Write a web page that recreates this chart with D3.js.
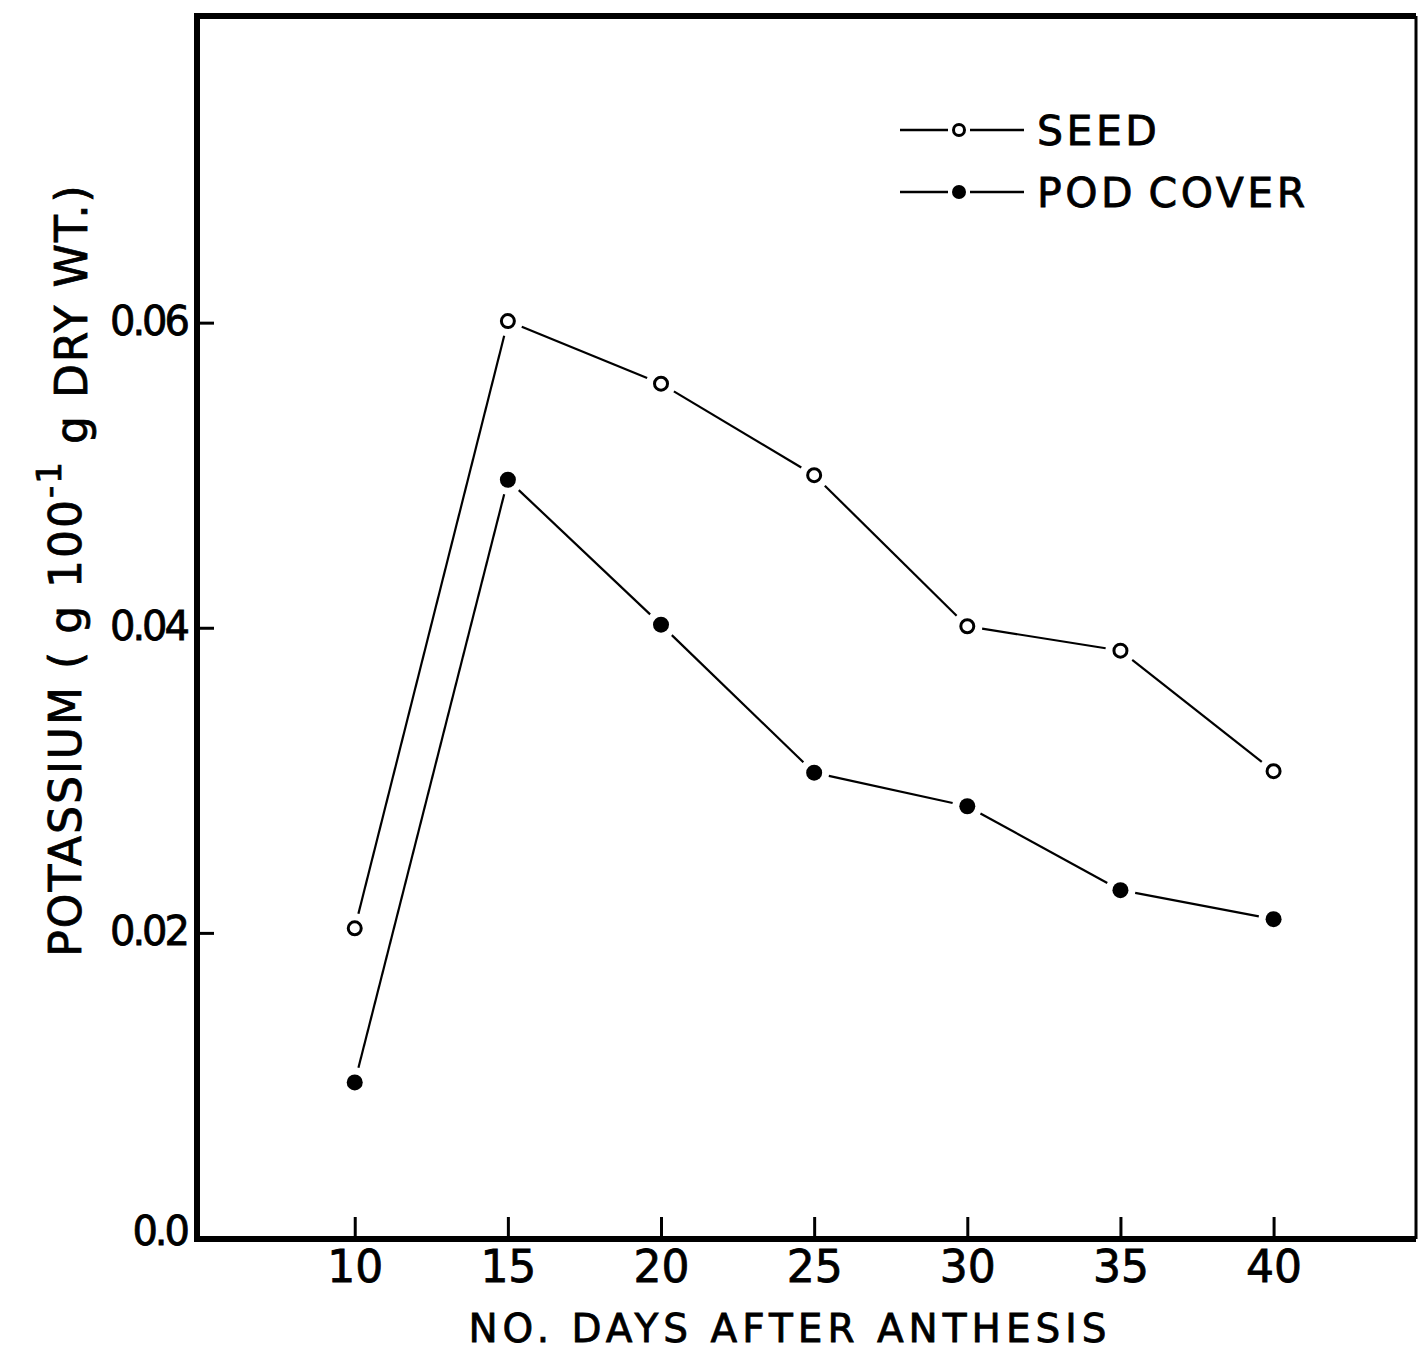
<!DOCTYPE html>
<html>
<head>
<meta charset="utf-8">
<script src="https://cdn.jsdelivr.net/npm/d3@7"></script>
<style>
  body { margin: 0; background: #fff; }
  text { font-family: "DejaVu Sans", sans-serif; fill: #000; stroke: #000; stroke-width: 0.8px; }
</style>
</head>
<body>
<svg width="1420" height="1352"></svg>
<script>
const days = [10, 15, 20, 25, 30, 35, 40]
const seed = [0.0203, 0.0601, 0.0560, 0.0500, 0.0401, 0.0385, 0.0306]
const podCover = [0.0102, 0.0497, 0.0402, 0.0305, 0.0283, 0.0228, 0.0209]
const yTicks = [0.0, 0.02, 0.04, 0.06]
const yTickLabels = ["0.0", "0.02", "0.04", "0.06"]

const svg = d3.select("svg")
const plotLeft = 197, plotRight = 1416, plotTop = 16, plotBottom = 1239

const x = d3.scaleLinear().domain([4.85, 44.65]).range([plotLeft, plotRight])
const y = d3.scaleLinear().domain([0, 0.0801]).range([1238, plotTop])

// frame
svg.append("line").attr("x1", plotLeft).attr("x2", plotRight).attr("y1", plotTop).attr("y2", plotTop)
    .attr("stroke", "#000").attr("stroke-width", 6)
svg.append("line").attr("x1", plotRight).attr("x2", plotRight).attr("y1", plotTop).attr("y2", plotBottom)
    .attr("stroke", "#000").attr("stroke-width", 3)

const xAxis = d3.axisBottom(x).tickValues(days).tickSizeInner(-22).tickSizeOuter(0).tickPadding(28)
const gx = svg.append("g").attr("transform", `translate(0,${plotBottom})`).call(xAxis)
gx.select(".domain").attr("stroke-width", 6).attr("d", `M${plotLeft - 3},0H${plotRight}`)
gx.selectAll(".tick line").attr("stroke-width", 3)
gx.selectAll(".tick text").style("font-size", "44px").attr("dy", "0.35em")

const yAxis = d3.axisLeft(y).tickValues(yTicks).tickFormat((d, i) => yTickLabels[i])
    .tickSizeInner(-17).tickSizeOuter(0).tickPadding(10)
const gy = svg.append("g").attr("transform", `translate(${plotLeft},0)`).call(yAxis)
gy.select(".domain").attr("stroke-width", 6).attr("d", `M0,${plotTop - 3}V${plotBottom}`)
gy.selectAll(".tick line").attr("stroke-width", 3)
gy.selectAll(".tick text").style("font-size", "40px").style("letter-spacing", "-3px").attr("dy", "0.3em")
gy.selectAll(".tick").filter(d => d === 0).select("line").remove()
gy.selectAll(".tick").filter(d => d === 0).select("text").attr("dy", "0.15em")

// series lines with gaps at markers
function drawSeries(vals, filled){
    const pts = days.map((d, i) => [x(d), y(vals[i])])
    const gap = 15
    for (let i = 0; i < pts.length - 1; i++){
        const [x1, y1] = pts[i], [x2, y2] = pts[i + 1]
        const len = Math.hypot(x2 - x1, y2 - y1)
        const ux = (x2 - x1) / len, uy = (y2 - y1) / len
        svg.append("line")
            .attr("x1", x1 + ux * gap).attr("y1", y1 + uy * gap)
            .attr("x2", x2 - ux * gap).attr("y2", y2 - uy * gap)
            .attr("stroke", "#000").attr("stroke-width", 2.2)
    }
    svg.selectAll(null).data(pts).enter().append("circle")
        .attr("cx", d => d[0]).attr("cy", d => d[1])
        .attr("r", filled ? 8 : 6.5)
        .attr("fill", filled ? "#000" : "#fff")
        .attr("stroke", "#000").attr("stroke-width", filled ? 0 : 3)
}
drawSeries(seed, false)
drawSeries(podCover, true)

// legend
const legend = [{name: "SEED", filled: false, y: 130}, {name: "POD COVER", filled: true, y: 192}]
legend.forEach(l => {
    svg.append("line").attr("x1", 900).attr("x2", 948).attr("y1", l.y).attr("y2", l.y)
        .attr("stroke", "#000").attr("stroke-width", 2.5)
    svg.append("line").attr("x1", 970).attr("x2", 1024).attr("y1", l.y).attr("y2", l.y)
        .attr("stroke", "#000").attr("stroke-width", 2.5)
    svg.append("circle").attr("cx", 959).attr("cy", l.y)
        .attr("r", l.filled ? 7 : 5.5)
        .attr("fill", l.filled ? "#000" : "#fff")
        .attr("stroke", "#000").attr("stroke-width", l.filled ? 0 : 3)
    svg.append("text").attr("x", 1037).attr("y", l.y + 15)
        .style("font-size", "41px").style("letter-spacing", "3.5px").style("word-spacing", "-4px")
        .text(l.name)
})

// axis titles
svg.append("text").attr("x", 790).attr("y", 1342).attr("text-anchor", "middle")
    .style("font-size", "39px").style("letter-spacing", "5px")
    .text("NO. DAYS AFTER ANTHESIS")

const yt = svg.append("text")
    .attr("transform", "translate(81,570) rotate(-90)")
    .attr("text-anchor", "middle")
    .style("font-size", "44px").style("letter-spacing", "2px")
yt.append("tspan").text("POTASSIUM ( g 100")
yt.append("tspan").attr("dy", "-0.6em").style("font-size", "34px").text("-1")
yt.append("tspan").attr("dy", "0.6em").text(" g DRY WT.)")
</script>
</body>
</html>
